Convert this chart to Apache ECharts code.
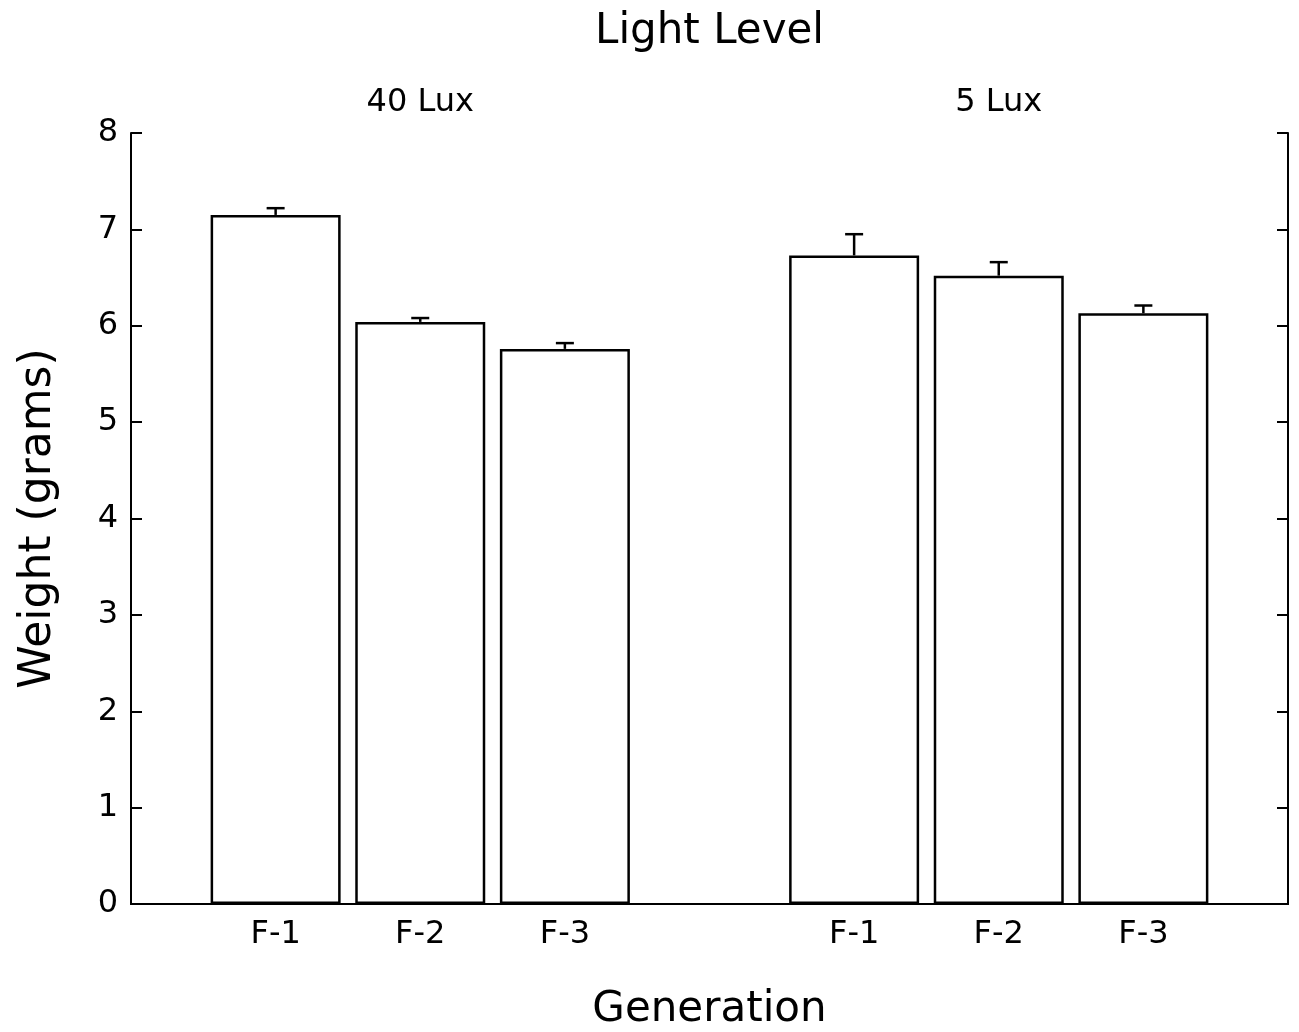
<!DOCTYPE html>
<html>
<head>
<meta charset="utf-8">
<script src="https://cdn.jsdelivr.net/npm/echarts@6/dist/echarts.min.js"></script>
<style>
  html, body { margin: 0; padding: 0; background: #fff; }
  #chart { width: 1299px; height: 1032px; }
</style>
</head>
<body>
<div id="chart"></div>
<script>
// Mean body weight by generation under two light levels, with standard-error caps
const generations = ['F-1', 'F-2', 'F-3'];
const lightLevels = ['40 Lux', '5 Lux'];
const mean40 = [7.15, 6.04, 5.76];
const err40 = [0.07, 0.04, 0.06];
const mean5 = [6.73, 6.52, 6.13];
const err5 = [0.22, 0.14, 0.08];
const yTicks = [0, 1, 2, 3, 4, 5, 6, 7, 8];

const FONT = 'DejaVu Sans';

// Nine slots: empty edge, group one, gap, group two, empty edge
const slotLabels = [''].concat(generations, [''], generations, ['']);
const groupLabels = ['', '', lightLevels[0], '', '', '', lightLevels[1], '', ''];
const means = [null].concat(mean40, [null], mean5, [null]);
const errs = [null].concat(err40, [null], err5, [null]);

const barData = means.map(v => (v == null ? '-' : v));
const errData = [];
means.forEach((v, i) => {
  if (v != null) errData.push([i, v, v + errs[i]]);
});

const chart = echarts.init(document.getElementById('chart'), null, { renderer: 'canvas' });

chart.setOption({
  backgroundColor: '#ffffff',
  animation: false,
  grid: { left: 131, right: 11, top: 133, bottom: 128, containLabel: false, outerBoundsMode: 'none' },
  xAxis: [
    {
      type: 'category',
      data: slotLabels,
      boundaryGap: false,
      position: 'bottom',
      name: 'Generation',
      nameLocation: 'middle',
      nameGap: 85,
      nameTextStyle: { fontFamily: FONT, fontSize: 42, color: '#000' },
      axisLine: { show: true, lineStyle: { color: '#000', width: 2 } },
      axisTick: { show: false },
      splitLine: { show: false },
      axisLabel: { interval: 0, margin: 15, fontFamily: FONT, fontSize: 32, color: '#000' }
    },
    {
      type: 'category',
      data: groupLabels,
      boundaryGap: false,
      position: 'top',
      name: 'Light Level',
      nameLocation: 'middle',
      nameGap: 80,
      nameTextStyle: { fontFamily: FONT, fontSize: 42, color: '#000' },
      axisLine: { show: true, lineStyle: { color: '#000', width: 2 } },
      axisTick: { show: false },
      splitLine: { show: false },
      axisLabel: { interval: 0, margin: 14, fontFamily: FONT, fontSize: 32, color: '#000' }
    }
  ],
  yAxis: [
    {
      type: 'value',
      min: yTicks[0],
      max: yTicks[yTicks.length - 1],
      interval: 1,
      position: 'left',
      name: 'Weight (grams)',
      nameLocation: 'middle',
      nameRotate: 90,
      nameGap: 70,
      nameTextStyle: { fontFamily: FONT, fontSize: 44, color: '#000' },
      axisLine: { show: true, lineStyle: { color: '#000', width: 2 } },
      axisTick: { show: true, inside: true, length: 11, lineStyle: { color: '#000', width: 2 } },
      splitLine: { show: false },
      axisLabel: { margin: 13, fontFamily: FONT, fontSize: 32, color: '#000' }
    },
    {
      type: 'value',
      min: yTicks[0],
      max: yTicks[yTicks.length - 1],
      interval: 1,
      position: 'right',
      axisLine: { show: true, lineStyle: { color: '#000', width: 2 } },
      axisTick: { show: true, inside: true, length: 11, lineStyle: { color: '#000', width: 2 } },
      splitLine: { show: false },
      axisLabel: { show: false }
    }
  ],
  series: [
    {
      type: 'bar',
      xAxisIndex: 0,
      yAxisIndex: 0,
      data: barData,
      barWidth: 130,
      itemStyle: { color: '#ffffff', borderColor: '#000', borderWidth: 2.5 },
      z: 2
    },
    {
      type: 'custom',
      xAxisIndex: 0,
      yAxisIndex: 0,
      data: errData,
      z: 3,
      renderItem: function (params, api) {
        const x = api.value(0);
        const top = api.coord([x, api.value(1)]);
        const cap = api.coord([x, api.value(2)]);
        const half = 9;
        const style = { stroke: '#000', lineWidth: 2.5 };
        return {
          type: 'group',
          children: [
            { type: 'line', shape: { x1: top[0], y1: top[1], x2: cap[0], y2: cap[1] }, style: style },
            { type: 'line', shape: { x1: cap[0] - half, y1: cap[1], x2: cap[0] + half, y2: cap[1] }, style: style }
          ]
        };
      }
    }
  ]
});
</script>
</body>
</html>
